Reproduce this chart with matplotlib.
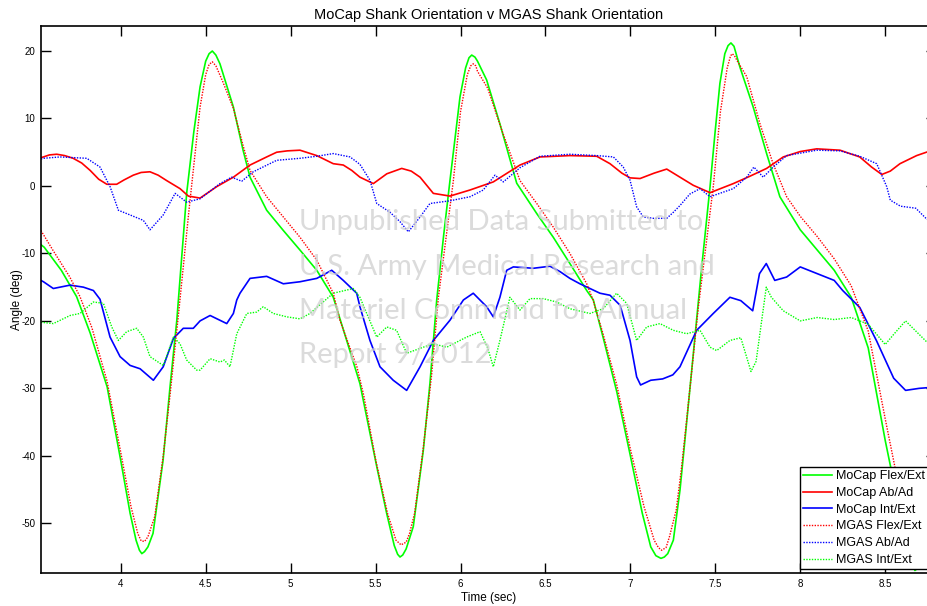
import matplotlib
matplotlib.use("Agg")
import matplotlib.pyplot as plt

plt.rcParams['font.family'] = ['Liberation Sans', 'DejaVu Sans']
plt.rcParams['axes.unicode_minus'] = False

# ---------------- data (time in s, angle in deg) ----------------
t_mocap_flex = [3.53, 3.55, 3.65, 3.74, 3.82, 3.92, 4.00, 4.055, 4.09, 4.11, 4.124, 4.14, 4.16, 4.19,
                4.249, 4.29, 4.33, 4.388, 4.43, 4.467, 4.50, 4.52, 4.539, 4.56, 4.584, 4.663, 4.72,
                4.761, 4.859, 4.957, 5.055, 5.154, 5.251, 5.33, 5.408, 5.428, 5.507, 5.566, 5.61, 5.63,
                5.644, 5.66, 5.68, 5.722, 5.781, 5.82, 5.86, 5.90, 5.938, 5.997, 6.03, 6.05, 6.066, 6.085,
                6.10, 6.154, 6.232, 6.331, 6.449, 6.546, 6.644, 6.743, 6.782, 6.84, 6.92, 7.00, 7.07,
                7.12, 7.15, 7.18, 7.20, 7.22, 7.253, 7.292, 7.321, 7.37, 7.42, 7.469, 7.498, 7.527, 7.556,
                7.575, 7.592, 7.61, 7.645, 7.723, 7.802, 7.88, 8.0, 8.1, 8.2, 8.3, 8.4, 8.5, 8.6, 8.64,
                8.675, 8.70, 8.72, 8.80]
v_mocap_flex = [-8.7, -9.1, -12.5, -16.4, -21.8, -29.8, -40.7, -48.5, -52.5, -54.0, -54.5, -54.2, -53.5,
                -51.5, -40.7, -29.8, -19.9, -1.1, 8.0, 14.7, 18.5, 19.6, 20.0, 19.4, 18.1, 11.7, 5.3, 1.3,
                -3.6, -6.6, -9.5, -12.5, -16.5, -22.9, -29.3, -31.8, -41.6, -48.6, -53.3, -54.6, -55.0,
                -54.7, -53.8, -50.5, -39.2, -29.3, -16.9, -7.5, 0.8, 13.2, 17.5, 19.0, 19.4, 19.1, 18.5,
                15.7, 9.2, 0.4, -4.1, -7.6, -11.5, -15.5, -16.9, -22.5, -30.5, -40.0, -48.5, -53.5, -54.8,
                -55.2, -55.0, -54.5, -52.5, -45.1, -37.7, -25.0, -12.0, -0.1, 7.8, 15.2, 19.6, 20.8, 21.2,
                20.7, 17.6, 11.7, 4.8, -1.6, -6.5, -9.5, -12.5, -16.5, -24.0, -37.7, -50.0, -55.0, -57.0,
                -56.5, -55.0, -43.0]

t_mocap_abad = [3.53, 3.545, 3.58, 3.623, 3.67, 3.72, 3.77, 3.82, 3.87, 3.918, 3.976, 4.02, 4.074, 4.12,
                4.172, 4.22, 4.27, 4.349, 4.398, 4.467, 4.565, 4.663, 4.761, 4.859, 4.918, 4.98, 5.055,
                5.154, 5.251, 5.31, 5.36, 5.408, 5.487, 5.566, 5.654, 5.71, 5.762, 5.84, 5.938, 6.056,
                6.193, 6.35, 6.468, 6.644, 6.802, 6.88, 6.95, 6.998, 7.057, 7.14, 7.214, 7.292, 7.37,
                7.469, 7.606, 7.70, 7.802, 7.9, 8.0, 8.097, 8.234, 8.35, 8.42, 8.48, 8.53, 8.587, 8.685,
                8.80]
v_mocap_abad = [4.2, 4.3, 4.6, 4.7, 4.5, 4.1, 3.4, 2.3, 1.0, 0.25, 0.25, 0.9, 1.6, 2.0, 2.1, 1.6, 0.8,
                -0.4, -1.5, -1.8, -0.1, 1.3, 3.1, 4.3, 5.0, 5.2, 5.3, 4.5, 3.3, 3.1, 2.3, 1.3, 0.35, 1.8,
                2.6, 2.2, 1.3, -1.1, -1.5, -0.6, 0.6, 3.1, 4.3, 4.5, 4.4, 3.3, 1.9, 1.2, 1.1, 1.9, 2.5,
                1.3, 0.1, -1.0, 0.35, 1.4, 2.6, 4.3, 5.1, 5.5, 5.3, 4.3, 2.8, 1.7, 2.2, 3.3, 4.5, 5.5]

t_mocap_intext = [3.53, 3.545, 3.603, 3.702, 3.78, 3.839, 3.878, 3.937, 3.996, 4.055, 4.114, 4.192, 4.25,
                  4.31, 4.368, 4.427, 4.467, 4.526, 4.624, 4.663, 4.683, 4.702, 4.761, 4.859, 4.957, 5.055,
                  5.154, 5.242, 5.31, 5.389, 5.408, 5.467, 5.526, 5.604, 5.683, 5.762, 5.84, 5.938, 6.017,
                  6.075, 6.154, 6.193, 6.232, 6.272, 6.311, 6.429, 6.527, 6.586, 6.644, 6.703, 6.762, 6.821,
                  6.88, 6.94, 6.998, 7.037, 7.06, 7.12, 7.19, 7.25, 7.292, 7.39, 7.488, 7.586, 7.65, 7.72,
                  7.76, 7.80, 7.85, 7.92, 8.0, 8.1, 8.2, 8.25, 8.35, 8.45, 8.55, 8.62, 8.70, 8.80]
v_mocap_intext = [-14.0, -14.2, -15.2, -14.7, -15.0, -15.5, -16.8, -22.4, -25.3, -26.6, -27.1, -28.8,
                  -26.8, -22.6, -21.1, -21.1, -20.0, -19.2, -20.4, -18.9, -16.9, -15.9, -13.7, -13.4,
                  -14.5, -14.2, -13.7, -12.5, -14.0, -15.9, -17.9, -22.9, -26.8, -28.8, -30.3, -26.8,
                  -22.9, -19.9, -16.9, -15.9, -17.9, -19.4, -16.5, -12.5, -12.0, -12.2, -11.9, -12.7,
                  -13.7, -14.5, -15.2, -15.9, -16.2, -17.7, -22.9, -28.3, -29.5, -28.8, -28.6, -28.0,
                  -26.8, -21.4, -18.9, -16.5, -17.0, -18.5, -13.0, -11.5, -14.0, -13.5, -12.0, -13.0,
                  -14.0, -15.5, -18.0, -23.0, -28.5, -30.3, -30.0, -29.8]

t_mgas_flex = [3.53, 3.60, 3.70, 3.76, 3.83, 3.92, 4.00, 4.06, 4.10, 4.12, 4.14, 4.16, 4.20, 4.25, 4.29,
               4.34, 4.40, 4.467, 4.50, 4.52, 4.539, 4.56, 4.60, 4.663, 4.72, 4.761, 4.859, 4.957, 5.055,
               5.154, 5.251, 5.29, 5.39, 5.43, 5.50, 5.57, 5.62, 5.65, 5.68, 5.70, 5.73, 5.78, 5.83, 5.87,
               5.958, 6.00, 6.04, 6.06, 6.075, 6.09, 6.10, 6.16, 6.24, 6.35, 6.449, 6.546, 6.644, 6.743,
               6.78, 6.84, 6.92, 7.00, 7.08, 7.14, 7.165, 7.184, 7.21, 7.23, 7.27, 7.30, 7.33, 7.40,
               7.488, 7.53, 7.57, 7.59, 7.60, 7.615, 7.63, 7.685, 7.763, 7.84, 7.92, 8.0, 8.1, 8.2, 8.3,
               8.4, 8.5, 8.6, 8.68, 8.74, 8.80]
v_mgas_flex = [-6.6, -9.5, -13.5, -16.4, -21.0, -29.0, -39.5, -47.5, -51.5, -52.6, -52.7, -52.0, -49.0,
               -40.0, -31.0, -19.0, -4.0, 11.7, 16.5, 18.0, 18.4, 17.8, 15.5, 11.5, 6.0, 2.3, -1.6, -4.6,
               -7.6, -11.0, -15.9, -19.9, -26.8, -31.0, -40.5, -48.5, -52.5, -53.2, -52.8, -51.5, -48.5,
               -39.0, -28.0, -16.5, 0.8, 11.0, 16.5, 17.8, 18.1, 17.8, 17.0, 14.5, 8.5, 0.8, -2.6, -6.1,
               -10.0, -14.5, -16.9, -22.0, -29.5, -39.0, -47.5, -52.5, -53.6, -54.0, -53.6, -52.0, -48.0,
               -42.0, -35.0, -18.0, -0.1, 11.0, 17.5, 19.3, 19.6, 19.2, 18.5, 16.2, 9.2, 3.3, -1.6, -4.5,
               -7.5, -10.8, -14.8, -21.5, -34.5, -47.0, -54.0, -52.0, -44.0]

t_mgas_abad = [3.53, 3.545, 3.643, 3.8, 3.878, 3.937, 3.986, 4.055, 4.133, 4.172, 4.25, 4.32, 4.388, 4.467,
               4.584, 4.653, 4.712, 4.78, 4.918, 5.055, 5.154, 5.251, 5.35, 5.408, 5.467, 5.507, 5.585,
               5.644, 5.693, 5.762, 5.82, 5.938, 6.056, 6.134, 6.203, 6.252, 6.35, 6.468, 6.644, 6.802,
               6.9, 6.958, 6.998, 7.037, 7.076, 7.135, 7.214, 7.253, 7.292, 7.35, 7.41, 7.469, 7.606,
               7.685, 7.727, 7.782, 7.841, 7.92, 8.097, 8.234, 8.35, 8.45, 8.509, 8.53, 8.59, 8.68, 8.74,
               8.80]
v_mgas_abad = [4.0, 4.1, 4.3, 4.1, 2.8, -0.1, -3.6, -4.3, -5.1, -6.5, -4.3, -1.1, -2.4, -1.9, 0.35, 1.3,
               0.7, 2.1, 3.8, 4.1, 4.4, 4.8, 4.3, 3.2, 0.85, -2.6, -3.9, -5.3, -6.8, -4.6, -2.6, -2.2,
               -1.6, -0.6, 1.6, 0.6, 2.7, 4.4, 4.7, 4.5, 4.3, 2.8, 0.85, -3.1, -4.6, -4.8, -4.8, -3.9,
               -2.9, -1.2, -0.4, -1.6, -0.4, 1.3, 2.8, 1.3, 2.8, 4.5, 5.3, 5.2, 4.4, 3.3, -0.1, -2.1,
               -3.0, -3.3, -4.8, -6.0]

t_mgas_intext = [3.53, 3.603, 3.702, 3.76, 3.839, 3.898, 3.947, 3.986, 4.035, 4.094, 4.133, 4.172, 4.25,
                 4.31, 4.349, 4.388, 4.447, 4.467, 4.526, 4.584, 4.61, 4.643, 4.683, 4.742, 4.8, 4.839,
                 4.898, 4.977, 5.055, 5.114, 5.173, 5.251, 5.369, 5.408, 5.448, 5.507, 5.566, 5.624,
                 5.683, 5.781, 5.84, 5.919, 6.036, 6.115, 6.16, 6.193, 6.232, 6.291, 6.35, 6.409, 6.487,
                 6.566, 6.644, 6.762, 6.84, 6.919, 6.978, 7.037, 7.096, 7.174, 7.253, 7.331, 7.41, 7.469,
                 7.508, 7.586, 7.65, 7.71, 7.74, 7.80, 7.83, 7.90, 8.0, 8.1, 8.2, 8.3, 8.4, 8.5, 8.55,
                 8.62, 8.70, 8.80]
v_mgas_intext = [-20.2, -20.4, -19.2, -18.9, -17.2, -17.4, -20.9, -22.9, -21.6, -21.1, -22.4, -25.3,
                 -26.6, -22.4, -23.4, -25.8, -27.3, -27.3, -25.6, -26.1, -25.8, -26.8, -21.9, -18.9,
                 -18.7, -17.9, -18.9, -19.4, -19.7, -18.9, -17.6, -15.9, -15.2, -16.5, -18.9, -22.4,
                 -20.9, -21.4, -24.8, -23.9, -23.4, -23.9, -22.4, -21.6, -24.0, -26.8, -22.9, -16.5,
                 -18.4, -16.7, -16.7, -17.2, -18.2, -18.9, -18.2, -15.9, -17.4, -22.9, -20.9, -20.4,
                 -21.4, -21.9, -21.4, -23.9, -24.4, -22.9, -22.5, -27.5, -26.0, -15.0, -16.5, -18.5,
                 -20.0, -19.5, -19.8, -19.5, -20.5, -23.5, -22.0, -20.0, -22.0, -24.5]

series_labels = ['MoCap Flex/Ext', 'MoCap Ab/Ad', 'MoCap Int/Ext',
                 'MGAS Flex/Ext', 'MGAS Ab/Ad', 'MGAS Int/Ext']
x_ticks = [4, 4.5, 5, 5.5, 6, 6.5, 7, 7.5, 8, 8.5]
y_ticks = [-50, -40, -30, -20, -10, 0, 10, 20]
watermark_lines = ['Unpublished Data Submitted to', 'U.S. Army Medical Research and',
                   'Materiel Command for Annual', 'Report 9/2012']

# ---------------- figure ----------------
fig = plt.figure(figsize=(9.28, 6.06), dpi=100)
ax = fig.add_axes([0.0439, 0.054, 0.9647, 0.903])

dot = (0, (1, 1))
ax.plot(t_mocap_flex, v_mocap_flex, color='#00ff00', lw=1.2, label=series_labels[0])
ax.plot(t_mocap_abad, v_mocap_abad, color='#ff0000', lw=1.2, label=series_labels[1])
ax.plot(t_mocap_intext, v_mocap_intext, color='#0000ff', lw=1.2, label=series_labels[2])
ax.plot(t_mgas_flex, v_mgas_flex, color='#ff0000', lw=1.0, ls=dot, label=series_labels[3])
ax.plot(t_mgas_abad, v_mgas_abad, color='#0000ff', lw=1.0, ls=dot, label=series_labels[4])
ax.plot(t_mgas_intext, v_mgas_intext, color='#00ff00', lw=1.0, ls=dot, label=series_labels[5])

ax.set_xlim(3.529, 8.799)
ax.set_ylim(-57.41, 23.7)
ax.set_xticks(x_ticks)
ax.set_xticklabels([f'{v:g}' for v in x_ticks])
ax.set_yticks(y_ticks)
ax.set_yticklabels([f'{v:g}' for v in y_ticks])
ax.tick_params(direction='in', length=7, width=1.0, top=True, right=True,
               labelsize=7, pad=4, colors='black')
for s in ax.spines.values():
    s.set_linewidth(1.2)

ax.set_title('MoCap Shank Orientation v MGAS Shank Orientation', fontsize=10.5, pad=5)
ax.set_xlabel('Time (sec)', fontsize=8.5, labelpad=2)
ax.set_ylabel('Angle (deg)', fontsize=8.5, labelpad=-1)

# watermark
for i, line in enumerate(watermark_lines):
    fig.text(299 / 928, 1 - (230 + 44.5 * i) / 606, line, fontsize=21, family='Lato',
             color='#cfcfcf', alpha=0.75, ha='left', va='baseline', zorder=10)

leg = ax.legend(loc='lower left', bbox_to_anchor=(800 / 928, (606 - 569) / 606),
                bbox_transform=fig.transFigure, fontsize=9, frameon=True, fancybox=False,
                edgecolor='black', framealpha=1, borderpad=0.25, labelspacing=0.38,
                handlelength=2.3, handletextpad=0.3, borderaxespad=0)
leg.get_frame().set_linewidth(1.0)

fig.savefig('out.png', dpi=100)
